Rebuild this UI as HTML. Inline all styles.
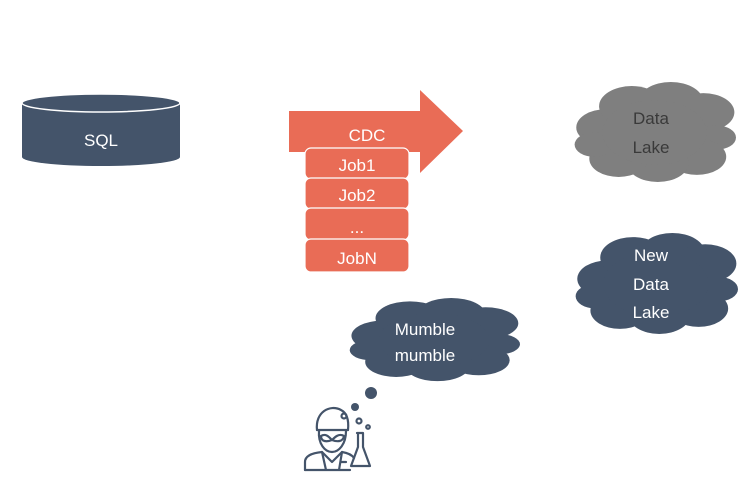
<!DOCTYPE html>
<html><head><style>body{margin:0;background:#fff}svg{display:block}</style></head><body>
<svg width="744" height="477" viewBox="0 0 744 477" xmlns="http://www.w3.org/2000/svg" font-family="Liberation Sans, sans-serif">
<defs>
<g id="cl">
<circle cx="20" cy="45" r="18"/><circle cx="36" cy="24" r="20"/><circle cx="60" cy="20" r="20"/><circle cx="80" cy="30" r="19"/><circle cx="88" cy="55" r="12"/><circle cx="76" cy="74" r="18"/><circle cx="52" cy="80" r="19"/><circle cx="28" cy="76" r="18"/><circle cx="13" cy="62" r="12"/><circle cx="50" cy="50" r="32"/>
</g>
</defs>
<!-- SQL cylinder -->
<path d="M22,103 L22,157 A79,9 0 0 0 180,157 L180,103 Z" fill="#44546a"/>
<ellipse cx="101" cy="103" rx="79" ry="9" fill="#44546a" stroke="#fff" stroke-width="1.5"/>
<text x="101" y="146" font-size="17" fill="#fff" text-anchor="middle">SQL</text>
<!-- CDC arrow -->
<polygon points="289,111 420,111 420,90 463,131 420,173 420,152 289,152" fill="#e96c56"/>
<text x="367" y="141" font-size="17" fill="#fff" text-anchor="middle">CDC</text>
<g fill="#e96c56" stroke="#fff" stroke-width="1.2">
<rect x="305" y="148" width="104" height="31" rx="6"/>
<rect x="305" y="178" width="104" height="31" rx="6"/>
<rect x="305" y="208" width="104" height="32" rx="6"/>
<rect x="305" y="239" width="104" height="33" rx="6"/>
</g>
<g font-size="17" fill="#fff" text-anchor="middle">
<text x="357" y="171">Job1</text><text x="357" y="201">Job2</text><text x="357" y="233">...</text><text x="357" y="264">JobN</text>
</g>
<!-- clouds -->
<g fill="#7f7f7f" transform="translate(573,82) scale(1.63,1.01)"><use href="#cl"/></g>
<text x="651" y="124" font-size="17" fill="#3a3a3a" text-anchor="middle">Data</text>
<text x="651" y="153" font-size="17" fill="#3a3a3a" text-anchor="middle">Lake</text>
<g fill="#44546a" transform="translate(574,233) scale(1.64,1.02)"><use href="#cl"/></g>
<g font-size="17" fill="#fff" text-anchor="middle"><text x="651" y="261">New</text><text x="651" y="290">Data</text><text x="651" y="318">Lake</text></g>
<g fill="#44546a" transform="translate(348,298) scale(1.72,0.84)"><use href="#cl"/></g>
<g font-size="17" fill="#fff" text-anchor="middle"><text x="425" y="335">Mumble</text><text x="425" y="361">mumble</text></g>
<circle cx="371" cy="393" r="6" fill="#44546a"/>
<circle cx="355" cy="407" r="4" fill="#44546a"/>
<!-- scientist -->
<g fill="none" stroke="#44546a" stroke-width="2.2" stroke-linejoin="round" stroke-linecap="round">
<path d="M317,430 C315,412 330,404 341,410 C347,413 349,420 348,430"/>
<circle cx="344" cy="416" r="2.5"/>
<path d="M317,430 L348,430"/>
<path d="M319,431 C318,444 325,452 332,452 C339,452 346,444 346,431"/>
<path d="M321,436 C326,433 329,437 332,440 C335,437 339,433 344,436 C343,442 337,442 332,440 C327,442 321,442 321,436Z"/>
<path d="M305,470 L305,462 C305,456 312,453 322,452 L332,462 L342,452 C348,453 352,455 354,458"/>
<path d="M322,452 L326,470 M342,452 L339,470 M305,470 L350,470"/>
<path d="M341,462 L346,462"/>
<circle cx="359" cy="421" r="2.5"/><circle cx="368" cy="427" r="1.8"/>
<path d="M357,433 L363,433 M358,433 L358,447 L351,466 L370,466 L363,447 L363,433"/>
</g>
</svg>
</body></html>
